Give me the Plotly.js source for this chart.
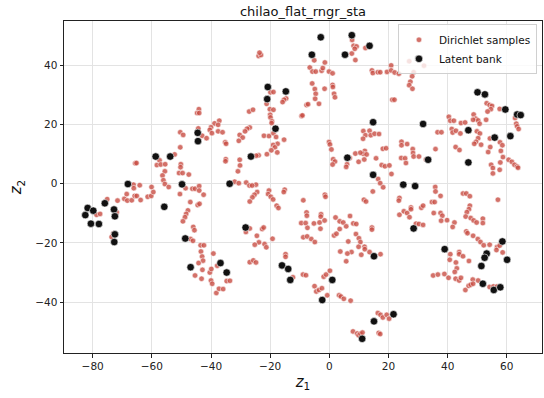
<!DOCTYPE html>
<html>
<head>
<meta charset="utf-8">
<script src="https://cdn.plot.ly/plotly-3.0.1.min.js"></script>
<style>html,body{margin:0;padding:0;background:#fff}#chart{width:544px;height:398px}</style>
</head>
<body>
<div id="chart"></div>
<script>
// Dirichlet samples (z1, z2)
const samplesX = [
-44.1,-44.7,-44.0,-44.3,-37.2,-38.8,-37.6,-40.0,-40.4,-39.7,-37.6,-36.1,-43.0,-41.5,-50.4,-49.4,-35.2,-34.9,-50.4,-52.3,-65.6,-65.2,-57.4,-58.3,-57.0,-55.5,-50.2,-50.3,-55.6,-56.4,-50.8,-49.6,-47.5,-56.1,-55.6,-54.3,-35.0,-35.1,-66.2,-64.1,-60.1,-66.1,-48.6,-46.3,-45.4,-44.0,
-23.9,-23.1,-23.6,-5.1,-1.5,-6.6,-5.7,-4.6,-2.6,-2.2,-0.1,1.1,-5.8,-4.9,-1.6,-4.6,-4.8,-3.5,1.1,1.2,1.6,1.9,-7.7,-7.2,-9.4,-9.1,-19.9,-18.9,-14.6,-15.3,-15.8,-21.2,-20.1,-18.9,-27.1,-25.8,-20.0,-19.9,-19.4,-19.5,-26.9,-27.8,-28.5,-30.3,-29.3,-30.6,-22.1,-20.4,-18.9,-18.0,-17.5,-19.0,-18.4,-19.6,-17.6,-15.3,-21.1,-23.9,-24.7,-30.3,-30.2,-30.9,-32.0,-30.6,-28.1,-27.0,-24.8,-26.1,
14.4,14.7,16.4,17.2,11.5,13.6,12.2,14.0,15.3,16.8,11.4,-0.1,0.2,0.7,12.0,11.5,12.6,8.8,10.5,1.3,1.9,1.1,6.9,6.0,5.7,9.9,11.8,15.8,17.7,18.8,18.1,16.5,17.2,18.2,7.7,8.2,9.2,8.6,7.6,8.8,12.2,
27.0,32.0,20.9,19.5,20.9,22.1,23.5,28.5,28.0,27.4,27.0,28.1,21.3,22.0,53.2,54.2,55.0,54.6,53.5,57.6,62.8,48.8,49.5,50.3,50.8,53.0,40.4,40.9,42.1,44.5,45.9,48.6,41.4,41.7,42.8,44.3,36.6,37.9,49.9,50.9,50.3,49.6,49.0,51.3,54.3,54.4,53.7,57.7,58.5,58.0,58.7,57.8,60.6,61.7,62.6,63.5,63.8,63.2,63.5,64.0,42.7,44.0,35.9,19.2,24.4,24.4,26.3,28.2,28.3,28.5,30.3,24.3,25.6,25.9,32.7,54.7,55.3,55.3,57.6,20.3,21.0,35.8,
-44.0,-42.5,-75.1,-71.6,-69.3,-68.3,-66.8,-65.8,-65.1,-63.8,-61.4,-60.2,-59.5,-68.5,-50.5,-47.0,-44.5,-43.9,-47.8,-48.4,-48.8,-49.5,-46.0,-45.6,-46.9,-46.1,-78.7,-77.5,-73.0,-73.6,-71.9,-43.5,-42.4,-43.4,-43.0,-42.7,-44.2,-42.9,-45.4,-43.2,-40.4,-39.9,-39.2,-37.9,-40.0,-39.6,-38.2,-37.3,-35.9,-34.7,
-24.4,-25.3,-26.0,-26.9,-20.4,-20.7,-19.8,-19.0,-17.8,-17.2,-15.1,-15.4,-8.8,-1.5,-1.3,14.7,11.7,12.4,-7.7,-7.6,-9.5,-8.0,-7.4,-8.8,-7.5,-6.1,-4.9,-5.2,-3.3,-2.8,-2.9,-1.6,-3.0,2.1,3.5,4.7,7.0,8.1,9.1,5.7,3.5,1.6,2.4,6.4,9.0,10.0,10.5,9.9,11.9,12.0,13.6,10.8,17.3,7.5,6.1,3.7,5.7,14.4,14.4,-26.9,-28.2,-24.5,-22.7,-22.2,-19.2,-23.8,-25.2,-21.9,-21.3,-26.9,-25.7,-24.8,-14.8,-14.8,-8.9,-7.9,-12.3,-1.9,-1.1,0.2,-5.0,-4.4,-3.5,-2.5,-0.7,3.3,3.9,4.9,7.2,-33.6,8.0,9.4,9.9,10.5,11.2,16.4,17.3,18.1,19.4,16.7,17.2,
35.9,37.6,45.2,46.3,47.5,57.0,23.7,23.5,34.7,35.6,31.1,31.7,23.7,25.2,26.3,27.1,27.6,27.6,35.3,37.6,38.2,37.8,39.8,42.3,41.7,29.3,30.3,31.7,47.5,47.2,46.5,46.1,47.8,48.8,49.8,51.9,51.9,46.3,46.7,48.6,50.2,51.1,52.2,54.2,56.7,56.5,57.6,58.6,40.9,40.7,43.9,43.9,45.2,42.8,47.2,43.1,42.4,35.1,36.7,38.9,40.3,42.7,43.9,44.5,46.0,47.1,47.8,48.5,48.6,50.3,54.2,55.5,56.7,20.2
];
const samplesY = [
25.2,23.9,23.9,18.7,21.3,20.4,19.9,19.1,18.2,17.1,17.7,17.4,16.2,15.4,17.4,16.5,14.0,13.5,12.3,9.9,6.9,7.0,7.9,6.3,6.5,6.6,6.6,5.6,4.2,2.8,3.6,3.6,3.1,1.2,-0.1,-1.1,8.3,7.6,-0.3,-0.5,-1.1,-1.5,-1.5,-1.7,-1.7,-0.8,
43.2,43.5,44.3,41.7,41.0,39.3,37.9,37.9,38.2,39.1,37.9,37.3,33.9,32.0,32.1,30.4,28.7,27.0,33.4,32.7,30.4,29.2,26.6,26.9,22.9,23.1,30.9,31.0,28.8,28.4,27.6,27.0,25.2,25.0,24.4,25.0,23.3,22.4,21.1,20.5,19.0,18.6,17.7,16.5,15.6,14.5,16.2,16.1,17.1,15.8,13.5,13.1,12.3,11.3,10.6,14.9,10.0,9.6,9.5,8.1,6.2,4.2,0.7,0.2,0.4,-0.6,-0.3,-0.6,
38.3,37.4,37.7,37.7,17.8,17.9,16.4,16.4,16.9,16.8,15.2,14.1,13.3,11.6,11.1,10.1,9.9,10.2,10.5,8.3,7.5,6.5,8.7,6.6,5.7,7.4,8.2,8.6,6.3,5.9,11.8,1.6,0.2,-1.2,48.6,46.6,46.4,45.6,44.0,41.8,45.9,
41.4,39.9,40.0,37.8,38.3,37.6,37.2,37.7,36.3,34.5,33.3,32.1,28.4,28.4,27.2,26.6,26.3,25.2,24.4,25.3,22.2,23.4,22.0,21.4,20.3,21.6,22.6,21.3,21.3,20.5,20.7,21.6,18.5,17.3,17.9,17.0,17.4,17.4,17.7,17.0,15.4,14.2,13.5,13.2,15.3,12.4,10.7,14.0,13.0,11.1,9.0,7.2,8.1,7.4,6.4,5.8,5.4,20.3,19.4,18.5,12.4,11.4,11.7,12.0,14.2,13.0,13.4,11.7,10.4,9.2,9.2,8.7,8.6,7.0,8.2,6.4,5.3,3.5,4.7,6.2,3.3,-1.1,
-2.3,-3.7,-5.2,-5.7,-5.1,-5.7,-5.6,-4.1,-4.1,-5.5,-4.4,-4.1,-2.8,-3.5,-3.5,-6.2,-7.2,-6.8,-9.0,-10.2,-11.3,-12.7,-14.6,-15.7,-18.7,-19.3,-10.5,-10.2,-16.8,-18.0,-9.6,-20.8,-20.8,-22.9,-24.6,-26.0,-26.8,-29.1,-31.0,-32.1,-30.0,-28.8,-23.6,-27.7,-32.7,-33.8,-36.9,-35.5,-35.6,-32.9,
-2.8,-3.7,-4.6,-6.0,-2.3,-3.5,-4.4,-5.3,-7.4,-8.2,-2.0,-2.8,-5.6,-3.7,-4.4,-2.6,-5.4,-6.0,-9.7,-10.8,-13.3,-13.3,-14.9,-18.1,-17.8,-18.7,-19.7,-13.4,-13.1,-10.3,-11.1,-12.4,-15.2,-11.4,-12.7,-13.1,-10.9,-13.4,-13.6,-14.4,-15.3,-17.5,-16.9,-19.5,-17.0,-18.4,-19.7,-21.3,-21.3,-22.1,-23.1,-24.0,-23.8,-23.1,-23.6,-22.9,-26.2,-14.8,-15.5,-15.1,-16.3,-17.6,-15.3,-14.8,-18.6,-19.8,-20.6,-20.4,-21.5,-26.5,-25.9,-26.6,-23.8,-24.7,-30.7,-30.9,-31.6,-31.4,-30.7,-29.4,-34.6,-36.4,-35.9,-35.3,-37.7,-37.7,-38.1,-38.9,-39.5,-32.8,-49.9,-50.6,-51.2,-50.7,-50.3,-43.7,-44.3,-45.2,-44.3,-50.4,-50.8,
-2.6,-4.1,-3.3,-3.3,-4.2,-5.4,-4.8,-5.7,-6.2,-6.2,-8.1,-7.4,-10.5,-9.3,-9.9,-11.3,-8.0,-8.6,-9.9,-9.9,-10.8,-12.5,-12.3,-13.1,-14.6,-13.5,-13.6,-13.9,-7.4,-8.6,-9.6,-11.1,-11.6,-12.4,-13.1,-11.8,-13.3,-16.1,-16.7,-17.6,-18.7,-19.7,-20.8,-20.6,-21.4,-22.4,-20.9,-23.2,-23.8,-25.7,-23.1,-23.8,-24.5,-26.6,-26.1,-28.6,-29.8,-31.0,-30.7,-30.5,-31.8,-32.1,-32.7,-31.8,-35.9,-34.5,-34.1,-32.4,-33.8,-32.7,-34.9,-34.7,-34.7,-45.6
];
// Latent bank (z1, z2)
const bankX = [
-44.5,-44.4,-58.7,-53.8,-68.1,-49.8,
-2.9,7.6,13.6,-5.9,5.3,-20.8,-14.7,-21.0,-18.2,14.8,-26.5,6.1,14.8,-33.7,
30.0,50.1,52.6,59.5,63.5,64.7,31.7,47.0,55.9,61.2,33.4,47.0,25.0,29.0,
-81.7,-79.8,-82.5,-80.6,-77.9,-75.9,-72.8,-72.5,-72.5,-72.7,-55.8,-48.7,-46.9,-36.8,-34.7,
-28.3,-16.0,-13.9,-13.2,1.0,-2.4,15.1,15.1,11.1,
28.5,39.0,58.5,53.2,52.5,60.1,51.4,51.9,55.6,57.8,21.7
];
const bankY = [
17.2,14.4,9.2,9.2,-0.1,-0.2,
49.5,50.2,46.6,43.6,43.6,32.7,31.2,28.6,18.6,20.8,9.2,8.8,3.0,0.0,
42.3,30.9,30.2,25.1,23.4,23.2,20.2,18.1,15.6,16.1,8.1,7.2,-0.3,-0.8,
-8.2,-9.1,-10.6,-13.5,-13.6,-6.6,-8.7,-11.0,-17.1,-19.7,-7.8,-18.5,-28.2,-26.8,-30.0,
-14.8,-27.6,-28.8,-32.5,-32.5,-39.3,-24.5,-46.5,-52.4,
-15.1,-22.1,-19.5,-23.6,-25.0,-25.7,-27.8,-33.8,-35.9,-35.0,-44.1
];
const seriesNames = ["Dirichlet samples", "Latent bank"];
const xTicks = [-80,-60,-40,-20,0,20,40,60];
const yTicks = [-40,-20,0,20,40];
const chartTitle = "chilao_flat_rngr_sta";

const FONT = "DejaVu Sans, sans-serif";
const traces = [
  {x: samplesX, y: samplesY, type: "scatter", mode: "markers", name: seriesNames[0],
   marker: {size: 5.5, color: "rgba(200,78,68,0.8)", line: {color: "rgba(255,255,255,0.9)", width: 0.6}}},
  {x: bankX, y: bankY, type: "scatter", mode: "markers", name: seriesNames[1],
   marker: {size: 7.5, color: "#111111", line: {color: "#ffffff", width: 0.6}}}
];
const axisCommon = {
  showline: true, mirror: true, linecolor: "#222", linewidth: 1,
  showgrid: true, gridcolor: "#e3e3e3", gridwidth: 1,
  zeroline: false, ticks: "outside", ticklen: 3.5, tickwidth: 1, tickcolor: "#222",
  tickfont: {family: FONT, size: 10.5, color: "#222"}, tickmode: "array"
};
const layout = {
  width: 544, height: 398,
  margin: {l: 64, r: 2, t: 21, b: 44.5},
  paper_bgcolor: "#fff", plot_bgcolor: "#fff",
  font: {family: FONT, color: "#222"},
  title: {text: chartTitle, font: {family: FONT, size: 13, color: "#111"},
          x: 0.5, xref: "paper", y: 1 - 11/398, yref: "container", yanchor: "middle"},
  xaxis: Object.assign({}, axisCommon, {range: [-89.7, 71.9], tickvals: xTicks,
          title: {text: "<i>z</i><sub>1</sub>", font: {family: FONT, size: 15, color: "#111"}, standoff: 5}}),
  yaxis: Object.assign({}, axisCommon, {range: [-57.2, 55.0], tickvals: yTicks,
          title: {text: "<i>z</i><sub>2</sub>", font: {family: FONT, size: 15, color: "#111"}, standoff: 9}}),
  showlegend: true,
  legend: {x: 0.9895, y: 0.99, xanchor: "right", yanchor: "top",
           bgcolor: "rgba(255,255,255,0.8)", bordercolor: "#d0d0d0", borderwidth: 1,
           font: {family: FONT, size: 10.5, color: "#111"}, tracegroupgap: 0, itemsizing: "trace"}
};
Plotly.newPlot("chart", traces, layout, {staticPlot: true, displayModeBar: false});
</script>
</body>
</html>
